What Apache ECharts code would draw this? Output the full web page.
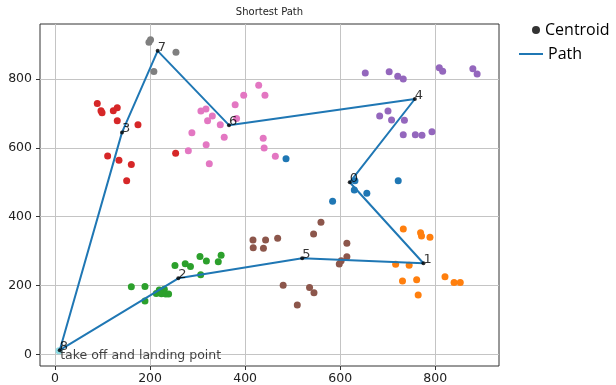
<!DOCTYPE html>
<html>
<head>
<meta charset="utf-8">
<script src="https://cdn.jsdelivr.net/npm/echarts@6/dist/echarts.min.js"></script>
<style>
  html, body { margin: 0; padding: 0; background: #fff; }
  #chart { width: 616px; height: 385px; }
</style>
</head>
<body>
<div id="chart"></div>
<script>
// Cluster members (x, y) for each of the nine clusters
const cluster0 = [[631, 504.5], [629.6, 477.5], [656, 468], [584, 444.6], [722, 504.5], [486, 568.5]];
const cluster1 = [[732.7, 364], [769, 353.5], [771, 344], [788.8, 340], [716.6, 261.6], [745, 259],
                  [731, 213], [760.8, 216.5], [764, 172], [820.4, 225.5], [839.5, 209], [852.5, 209]];
const cluster2 = [[160.6, 196.5], [189.3, 197], [189.3, 155], [213, 177], [219.4, 187], [230, 189],
                  [224, 176], [233, 175], [239, 175], [252.4, 258], [274, 263], [285, 255],
                  [305, 284], [318.5, 271], [343.5, 269], [349.5, 288], [306.5, 231]];
const cluster3 = [[89, 729], [96.8, 708], [99, 702], [122.7, 708], [131, 716.6], [131, 679],
                  [174.6, 667], [110.8, 576], [134.6, 563.8], [160.6, 552], [150.8, 504.5], [253.8, 584]];
const cluster4 = [[652.7, 817.5], [703, 821], [721, 808], [732.6, 800], [808.4, 833], [815.5, 822.5],
                  [879, 830], [888, 814.6], [700.5, 707], [683, 692.5], [708, 681], [735, 680],
                  [732.6, 638], [758, 638], [772, 637], [793, 647]];
const cluster5 = [[416.5, 332], [417, 310], [443, 332], [438.5, 308], [468.4, 337], [480, 201],
                  [509.7, 143], [535.5, 194], [544.8, 179], [559.5, 383.6], [544, 349.6], [614, 322.5],
                  [614, 283.6], [598, 262.4], [602, 272]];
const cluster6 = [[428.5, 781.7], [441.7, 753], [397, 753], [379, 725], [307, 707], [317.6, 713],
                  [331, 692.5], [321, 679], [347.7, 667], [382, 685], [356, 630.6], [288, 644],
                  [318, 609], [280.5, 591.7], [324.6, 554], [438, 628], [440, 599.5], [463.5, 575.4]];
const cluster7 = [[197.7, 906.7], [201, 914], [254.5, 877.6], [208, 822]];
const cluster8 = [[8.4, 10.5]];

// Centroid of each cluster, indexed 0..8
const centroids = [[620, 500], [775, 264.5], [259.4, 220.8], [141, 645], [757, 742],
                   [520, 279], [366, 666], [216, 882], [10, 12]];

// Visiting order of the shortest tour, starting and ending at the base
const pathOrder = [8, 3, 7, 6, 4, 0, 1, 5, 2, 8];

// Axis ticks
const xTicks = [0, 200, 400, 600, 800];
const yTicks = [0, 200, 400, 600, 800];

// Base annotation
const baseNote = { pos: [12, -14], text: 'take off and landing point' };

const clusters = [cluster0, cluster1, cluster2, cluster3, cluster4, cluster5, cluster6, cluster7, cluster8];
const clusterColors = ['#1f77b4', '#ff7f0e', '#2ca02c', '#d62728', '#9467bd',
                       '#8c564b', '#e377c2', '#7f7f7f', '#8fdde6'];

const FONT = 'DejaVu Sans';
const chart = echarts.init(document.getElementById('chart'), null, { renderer: 'canvas' });

const series = [];
clusters.forEach((pts, i) => {
  series.push({
    name: 'cluster ' + i,
    type: 'scatter',
    data: pts,
    symbolSize: 7,
    itemStyle: { color: clusterColors[i], opacity: 1 },
    z: 2,
    silent: true
  });
});

series.push({
  name: 'Path',
  type: 'line',
  data: pathOrder.map(k => centroids[k]),
  showSymbol: false,
  symbol: 'none',
  lineStyle: { color: '#1f77b4', width: 2 },
  itemStyle: { color: '#1f77b4' },
  z: 3,
  silent: true
});

series.push({
  name: 'Centroid',
  type: 'scatter',
  data: centroids.map((c, i) => ({ value: c, label: { formatter: String(i) } })),
  symbolSize: 4,
  itemStyle: { color: '#000' },
  label: {
    show: true,
    position: [2, 5],
    align: 'left',
    verticalAlign: 'bottom',
    fontFamily: FONT,
    fontSize: 13,
    color: '#000',
    textBorderWidth: 0
  },
  z: 4,
  silent: true
});

series.push({
  name: 'note',
  type: 'scatter',
  data: [baseNote.pos],
  symbolSize: 1,
  itemStyle: { color: 'rgba(0,0,0,0)' },
  label: {
    show: true,
    formatter: baseNote.text,
    position: [0, 4],
    align: 'left',
    verticalAlign: 'bottom',
    fontFamily: FONT,
    fontSize: 12.5,
    color: '#111'
  },
  z: 5,
  silent: true
});

const axisCommon = {
  type: 'value',
  axisLine: { show: false, onZero: false },
  axisTick: { show: true, inside: false, length: 4, lineStyle: { color: '#333', width: 1 } },
  splitLine: { show: true, lineStyle: { color: '#c4c4c4', width: 1 } },
  axisLabel: { fontFamily: FONT, fontSize: 12.5, color: '#222' }
};

chart.setOption({
  animation: false,
  backgroundColor: '#fff',
  title: {
    text: 'Shortest Path',
    left: 269.5,
    textAlign: 'center',
    top: 7,
    padding: 0,
    textStyle: { fontFamily: FONT, fontSize: 10, fontWeight: 'normal', color: '#222' }
  },
  legend: [
    {
      data: [{ name: 'Centroid', icon: 'circle', itemStyle: { color: '#000' } }],
      left: 532, top: 22, padding: 0,
      itemWidth: 8, itemHeight: 8, itemGap: 0,
      textStyle: { fontFamily: 'Open Sans', fontSize: 16, color: '#000' },
      selectedMode: false
    },
    {
      data: [{ name: 'Path', icon: 'rect' }],
      left: 519, top: 46, padding: 0,
      itemWidth: 24, itemHeight: 2, itemGap: 0,
      textStyle: { fontFamily: 'Open Sans', fontSize: 16, color: '#000' },
      selectedMode: false
    }
  ],
  grid: {
    left: 40, top: 24, right: 117, bottom: 19,
    show: true, borderColor: '#333', borderWidth: 1, backgroundColor: 'transparent',
    containLabel: false
  },
  xAxis: Object.assign({}, axisCommon, {
    min: -31.5, max: 934,
    axisTick: Object.assign({}, axisCommon.axisTick, { customValues: xTicks }),
    axisLabel: Object.assign({}, axisCommon.axisLabel, { customValues: xTicks, margin: 6 })
  }),
  yAxis: Object.assign({}, axisCommon, {
    min: -34, max: 960,
    axisTick: Object.assign({}, axisCommon.axisTick, { customValues: yTicks }),
    axisLabel: Object.assign({}, axisCommon.axisLabel, { customValues: yTicks, margin: 8 })
  }),
  series: series
});
</script>
</body>
</html>
